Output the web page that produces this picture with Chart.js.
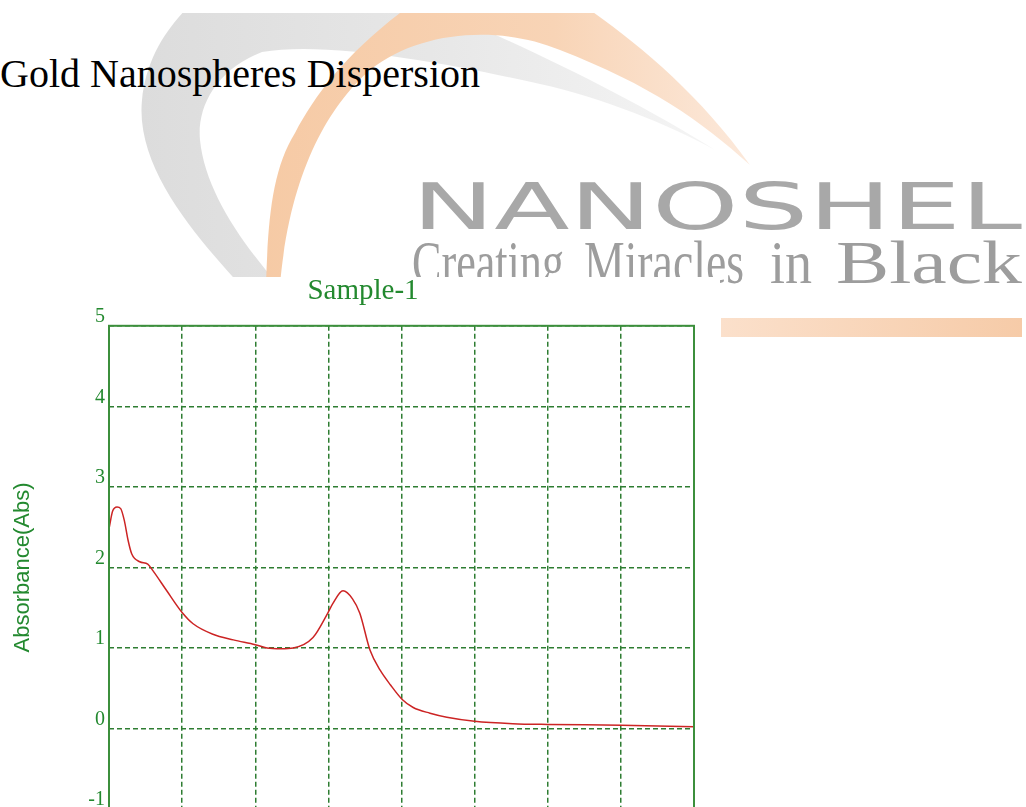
<!DOCTYPE html>
<html>
<head>
<meta charset="utf-8">
<title>Gold Nanospheres Dispersion</title>
<script src="https://cdn.jsdelivr.net/npm/chart.js@4.4.1/dist/chart.umd.min.js"></script>
<style>
  html, body { margin: 0; padding: 0; background: #fff; overflow: hidden; }
  #page { position: relative; width: 1026px; height: 807px; overflow: hidden; }
  #logo { position: absolute; left: 0; top: 0; }
  #plot { position: absolute; left: 0; top: 277px; width: 720px; height: 548px; background: #fff; }
</style>
</head>
<body>
<div id="page">
  <svg id="logo" width="1026" height="345" xmlns="http://www.w3.org/2000/svg">
    <defs>
      <clipPath id="logoClip"><rect x="0" y="13" width="1026" height="332"></rect></clipPath>
      <linearGradient id="grayArc" gradientUnits="userSpaceOnUse" x1="140" y1="0" x2="720" y2="0">
        <stop offset="0" stop-color="#dcdcdc"></stop>
        <stop offset="0.5" stop-color="#e7e7e7"></stop>
        <stop offset="1" stop-color="#f5f5f5"></stop>
      </linearGradient>
      <linearGradient id="orangeArc" gradientUnits="userSpaceOnUse" x1="260" y1="0" x2="750" y2="0">
        <stop offset="0" stop-color="#f6caa5"></stop>
        <stop offset="0.6" stop-color="#f8d4b6"></stop>
        <stop offset="1" stop-color="#fce9db"></stop>
      </linearGradient>
      <linearGradient id="orangeBar" x1="0" y1="0" x2="1" y2="0">
        <stop offset="0" stop-color="#fbe0cb"></stop>
        <stop offset="1" stop-color="#f6cba8"></stop>
      </linearGradient>
    </defs>
    <g clip-path="url(#logoClip)">
      <!-- gray arc -->
      <path fill="url(#grayArc)" d="M 240 285 C 200 240, 135 170, 142 100 C 146 60, 165 30, 190 5 L 400 -5 C 480 25, 620 90, 715 150 C 670 125, 600 97, 540 84 C 460 66, 330 40, 262 52 C 215 70, 197 108, 200 140 C 205 190, 240 240, 278 285 Z"></path>
      <!-- orange arc -->
      <path fill="url(#orangeArc)" d="M 266 285 C 268 220, 272 170, 295 133 C 315 95, 345 55, 400 13 C 430 -10, 560 -10, 590 10 C 640 45, 700 95, 750 165 C 700 120, 650 85, 560 50 C 500 25, 420 30, 370 70 C 330 105, 290 170, 280 285 Z"></path>
      <text x="412" y="229" font-family="DejaVu Sans" font-size="64" fill="#a8a8a8" textLength="610" lengthAdjust="spacingAndGlyphs">NANOSHEL</text>
      <text x="412" y="283" font-family="Liberation Serif" font-size="62" fill="#9d9d9d" textLength="152" lengthAdjust="spacingAndGlyphs">Creating</text>
      <text x="584" y="283" font-family="Liberation Serif" font-size="62" fill="#9d9d9d" textLength="160" lengthAdjust="spacingAndGlyphs">Miracles</text>
      <text x="770" y="283" font-family="Liberation Serif" font-size="62" fill="#9d9d9d" textLength="42" lengthAdjust="spacingAndGlyphs">in</text>
      <text x="836" y="283" font-family="Liberation Serif" font-size="62" fill="#9d9d9d" textLength="186" lengthAdjust="spacingAndGlyphs">Black</text>
      <rect x="721" y="318" width="301" height="19" fill="url(#orangeBar)"></rect>
    </g>
    <text x="0" y="87" font-family="Liberation Serif" font-size="40" fill="#000" textLength="480" lengthAdjust="spacingAndGlyphs">Gold Nanospheres Dispersion</text>
  </svg>
  <div id="plot"><canvas id="myChart"></canvas></div>
</div>
<script>
// wavelength (nm) and absorbance
const wavelength = [200, 205, 211, 216, 221, 226, 231, 242, 253, 260, 279, 300, 315, 342, 370, 400, 416, 435, 452, 479, 499, 506, 520, 533, 543, 557, 571, 585, 601, 616, 639, 662, 700, 752, 800, 901, 1000];
const absorbance = [2.48, 2.70, 2.75, 2.73, 2.58, 2.34, 2.17, 2.07, 2.04, 1.96, 1.71, 1.44, 1.30, 1.17, 1.10, 1.04, 1.00, 0.99, 1.00, 1.13, 1.43, 1.55, 1.71, 1.61, 1.43, 0.97, 0.72, 0.54, 0.36, 0.26, 0.19, 0.14, 0.09, 0.06, 0.05, 0.04, 0.02];

const xTicks = [200, 1000, 100]; // min, max, step
const yTicks = [-1, 5, 1];

const green = '#23892f';
const gridGreen = '#2e7d32';

// solid frame round the plot area
const frame = {
    id: 'frame',
    afterDraw(chart) {
        const { ctx, chartArea: a } = chart;
        ctx.save();
        ctx.strokeStyle = '#3c8f3c';
        ctx.lineWidth = 2;
        ctx.strokeRect(a.left, a.top, a.right - a.left, a.bottom - a.top);
        ctx.restore();
    }
};

const ctx = document.getElementById('myChart');

new Chart(ctx, {
    type: 'line',
    data: {
        datasets: [{
            label: 'Sample-1',
            data: wavelength.map((w, i) => ({ x: w, y: absorbance[i] })),
            borderColor: '#cc2424',
            borderWidth: 1.5,
            pointRadius: 0,
            cubicInterpolationMode: 'monotone',
            fill: false
        }]
    },
    options: {
        responsive: true,
        maintainAspectRatio: false,
        animation: false,
        // left padding keeps the title centred where the original has it
        layout: { padding: { left: 32, right: 26, top: 0, bottom: 2 } },
        plugins: {
            legend: { display: false },
            tooltip: { enabled: false },
            title: {
                display: true,
                text: 'Sample-1',
                color: green,
                font: { family: 'Liberation Serif', size: 29, weight: 'normal' },
                padding: { top: -3, bottom: 17 }
            }
        },
        scales: {
            x: {
                type: 'linear',
                min: xTicks[0],
                max: xTicks[1],
                ticks: { display: false, stepSize: xTicks[2] },
                grid: { color: gridGreen, lineWidth: 1.5, drawTicks: false },
                border: { display: false, dash: [5, 3] }
            },
            y: {
                min: yTicks[0],
                max: yTicks[1],
                afterFit: (scale) => { scale.width = 77; },
                ticks: {
                    stepSize: yTicks[2],
                    color: green,
                    padding: 4,
                    labelOffset: -9,
                    font: { family: 'Liberation Serif', size: 20 }
                },
                grid: { color: gridGreen, lineWidth: 1.5, drawTicks: false },
                border: { display: false, dash: [5, 3] },
                title: {
                    display: true,
                    text: 'Absorbance(Abs)',
                    color: green,
                    font: { family: 'Liberation Sans', size: 22 },
                    padding: { top: -22, bottom: 0 }
                }
            }
        }
    },
    plugins: [frame]
});
</script>
</body>
</html>
